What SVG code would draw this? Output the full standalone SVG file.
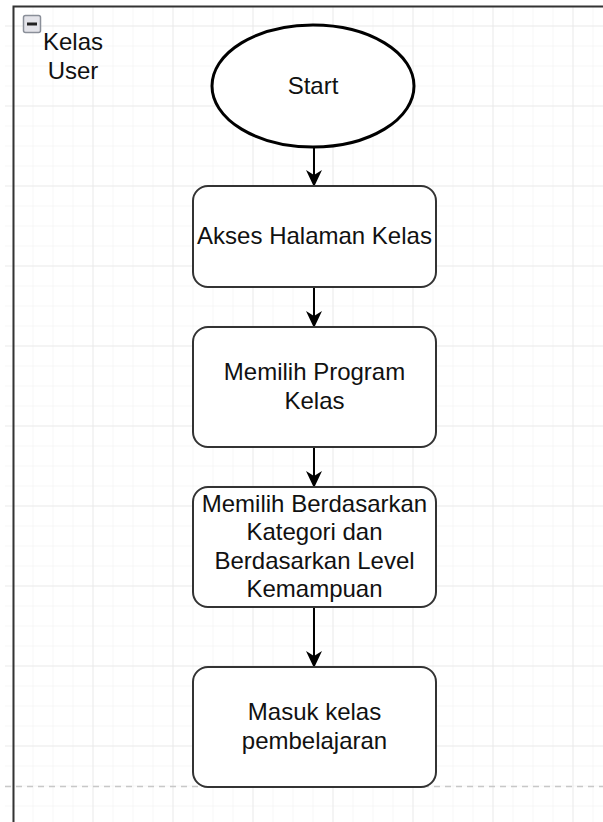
<svg xmlns="http://www.w3.org/2000/svg" width="603" height="822" viewBox="0 0 603 822">
  <defs>
    <pattern id="minor" width="20" height="20" patternUnits="userSpaceOnUse" x="13.5" y="6.5">
      <path d="M20 0 V20 M0 20 H20" fill="none" stroke="#eeeeee" stroke-width="1"/>
    </pattern>
    <pattern id="major" width="80" height="80" patternUnits="userSpaceOnUse" x="13.5" y="26.5">
      <path d="M80 0 V80 M0 80 H80" fill="none" stroke="#e0e0e0" stroke-width="1"/>
    </pattern>
    <marker id="arrow" markerWidth="18" markerHeight="16" viewBox="0 0 18 16" refX="17" refY="8" orient="auto" markerUnits="userSpaceOnUse">
      <path d="M18 8 L1 0 L6 8 L1 16 Z" fill="#000"/>
    </marker>
  </defs>
  <style>
    .t { font-family: "Liberation Sans", Arial, sans-serif; font-size: 24px; fill: #111; text-anchor: middle; }
    .box { fill: #fff; stroke: #333; stroke-width: 2; }
    .edge { stroke: #000; stroke-width: 2; fill: none; }
  </style>

  <rect x="0" y="0" width="603" height="822" fill="#fff"/>
  <rect x="5" y="7" width="598" height="815" fill="url(#minor)"/>
  <rect x="5" y="7" width="598" height="815" fill="url(#major)"/>
  <line x1="5" y1="786.5" x2="603" y2="786.5" stroke="#c8c8c8" stroke-width="1.5" stroke-dasharray="6 5"/>

  <g id="lane">
    <path d="M13.5 822 V6.5 H603" fill="none" stroke="#333" stroke-width="2"/>
    <rect x="23.5" y="15.5" width="17" height="17" rx="2" fill="#e4e4ea" stroke="#8a8f99" stroke-width="1.5"/>
    <rect x="27" y="22.5" width="10" height="3" fill="#222"/>
    <text class="t" x="73" y="50">Kelas</text>
    <text class="t" x="73" y="79">User</text>
  </g>

  <g id="connectors">
    <line class="edge" x1="314" y1="147" x2="314" y2="186" marker-end="url(#arrow)"/>
    <line class="edge" x1="314" y1="287" x2="314" y2="327" marker-end="url(#arrow)"/>
    <line class="edge" x1="314" y1="447" x2="314" y2="487" marker-end="url(#arrow)"/>
    <line class="edge" x1="314" y1="607" x2="314" y2="667" marker-end="url(#arrow)"/>
  </g>

  <g id="start">
    <ellipse cx="313" cy="86" rx="101" ry="61" fill="#fff" stroke="#000" stroke-width="3"/>
    <text class="t" x="313" y="94">Start</text>
  </g>

  <g id="akses">
    <rect class="box" x="193" y="186" width="243" height="101" rx="15"/>
    <text class="t" x="314.5" y="244">Akses Halaman Kelas</text>
  </g>

  <g id="program">
    <rect class="box" x="193" y="327" width="243" height="120" rx="15"/>
    <text class="t" x="314.5" y="380">Memilih Program</text>
    <text class="t" x="314.5" y="409">Kelas</text>
  </g>

  <g id="kategori">
    <rect class="box" x="193" y="487" width="243" height="120" rx="15"/>
    <text class="t" x="314.5" y="512">Memilih Berdasarkan</text>
    <text class="t" x="314.5" y="540">Kategori dan</text>
    <text class="t" x="314.5" y="569">Berdasarkan Level</text>
    <text class="t" x="314.5" y="597">Kemampuan</text>
  </g>

  <g id="masuk">
    <rect class="box" x="193" y="667" width="243" height="120" rx="15"/>
    <text class="t" x="314.5" y="720">Masuk kelas</text>
    <text class="t" x="314.5" y="749">pembelajaran</text>
  </g>
</svg>
